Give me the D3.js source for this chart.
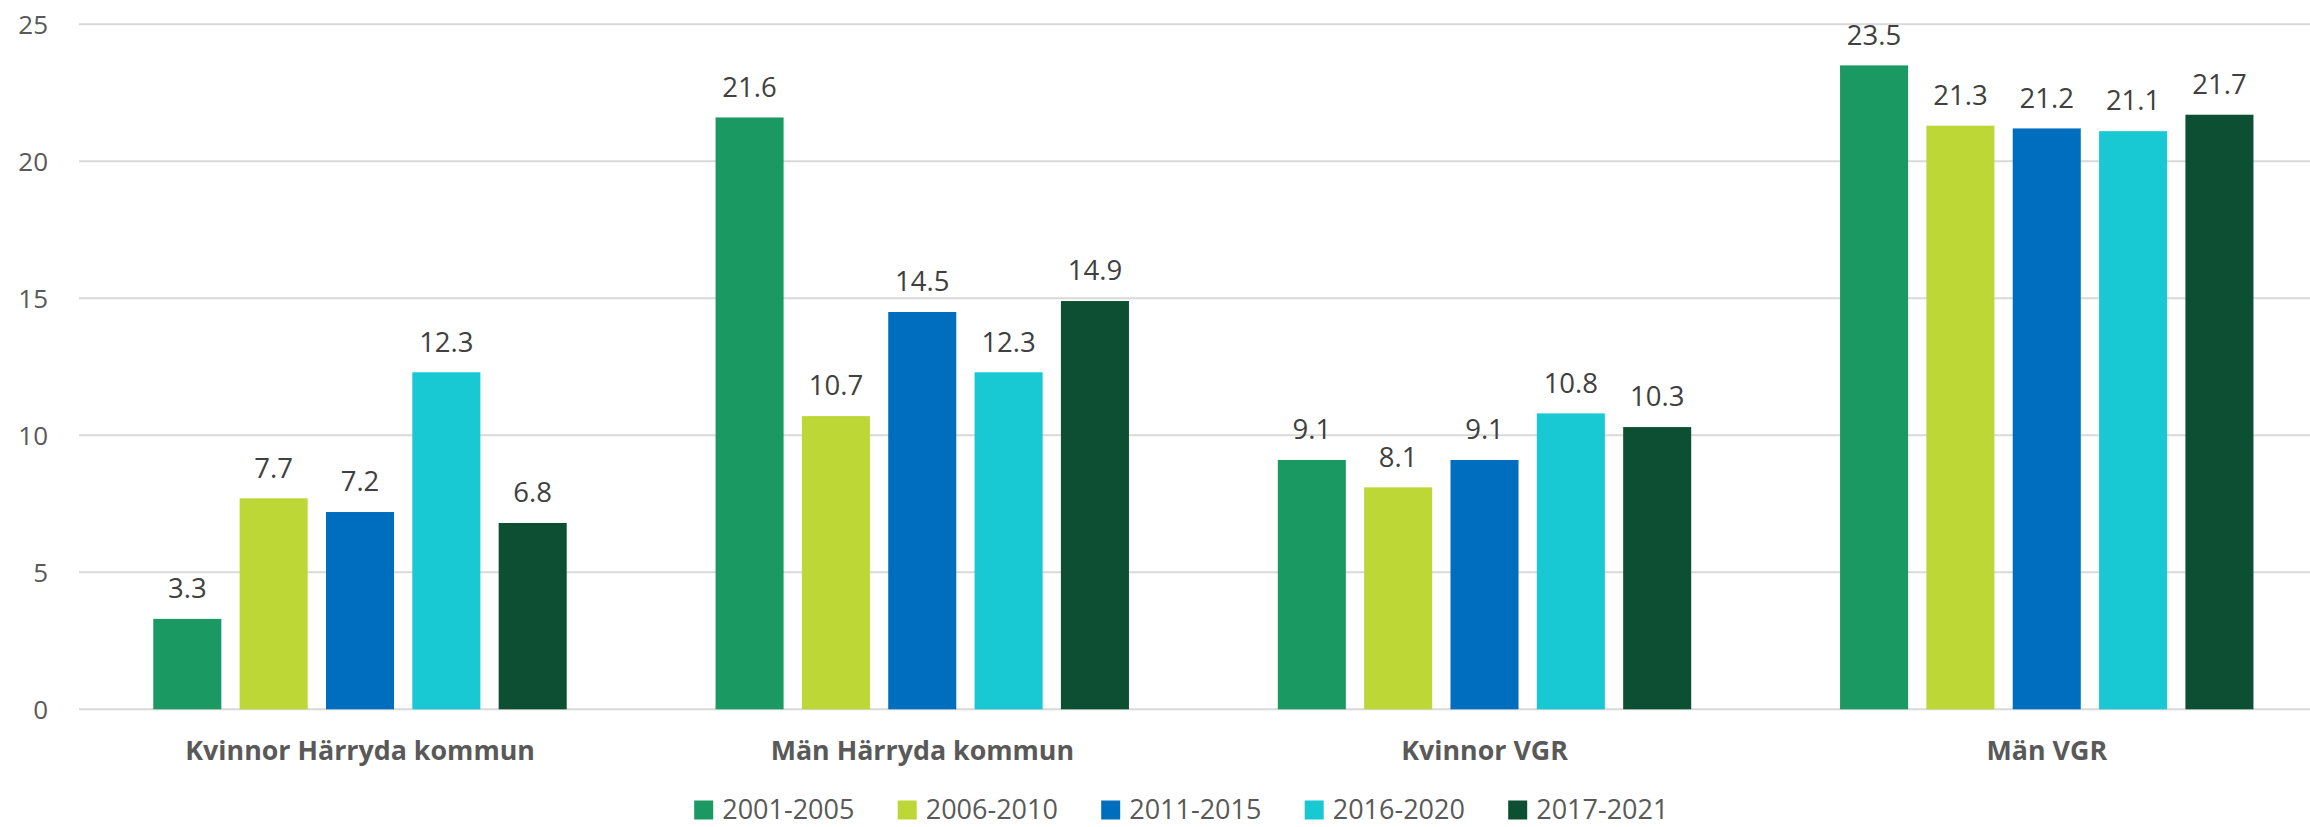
<!DOCTYPE html>
<html>
<head>
<meta charset="utf-8">
<script src="https://cdn.jsdelivr.net/npm/d3@7/dist/d3.min.js"></script>
<style>
  html, body { margin: 0; padding: 0; background: #fff; }
  svg { display: block; }
</style>
</head>
<body>
<svg id="chart" width="2310" height="827"></svg>
<script>
const categories = ["Kvinnor Härryda kommun", "Män Härryda kommun", "Kvinnor VGR", "Män VGR"];
const seriesNames = ["2001-2005", "2006-2010", "2011-2015", "2016-2020", "2017-2021"];
const seriesColors = ["#1a9962", "#bcd736", "#006ebe", "#18c8d2", "#0d4f33"];
const s2001_2005 = [3.3, 21.6, 9.1, 23.5];
const s2006_2010 = [7.7, 10.7, 8.1, 21.3];
const s2011_2015 = [7.2, 14.5, 9.1, 21.2];
const s2016_2020 = [12.3, 12.3, 10.8, 21.1];
const s2017_2021 = [6.8, 14.9, 10.3, 21.7];
const seriesValues = [s2001_2005, s2006_2010, s2011_2015, s2016_2020, s2017_2021];
const yTicks = [0, 5, 10, 15, 20, 25];

const svg = d3.select("#chart");
const plotLeft = 79, plotRight = 2328, gridRight = 2310;
const yTop = 24.3, yBottom = 709.3;

const y = d3.scaleLinear().domain([0, 25]).range([yBottom, yTop]);
const x0 = d3.scaleBand().domain(categories).range([plotLeft, plotRight]).padding(0);
const x1 = d3.scaleBand().domain(seriesNames).range([74.3, 487.7]).paddingInner(0.212).paddingOuter(0);

// gridlines
svg.append("g").selectAll("line").data(yTicks).join("line")
  .attr("x1", plotLeft).attr("x2", gridRight)
  .attr("y1", d => y(d)).attr("y2", d => y(d))
  .attr("stroke", "#d9d9d9").attr("stroke-width", 2);

// y tick labels
svg.append("g").selectAll("text").data(yTicks).join("text")
  .attr("x", 48).attr("y", d => y(d) + 9.5)
  .attr("text-anchor", "end")
  .attr("font-family", "Open Sans").attr("font-size", 26)
  .attr("fill", "#595959")
  .text(d => d);

// bars
const rows = [];
categories.forEach((c, i) => {
  seriesNames.forEach((s, j) => {
    rows.push({cat: c, series: s, value: seriesValues[j][i], color: seriesColors[j]});
  });
});

svg.append("g").selectAll("rect").data(rows).join("rect")
  .attr("x", d => x0(d.cat) + x1(d.series))
  .attr("y", d => y(d.value))
  .attr("width", x1.bandwidth())
  .attr("height", d => y(0) - y(d.value))
  .attr("fill", d => d.color);

// value labels
svg.append("g").selectAll("text").data(rows).join("text")
  .attr("x", d => x0(d.cat) + x1(d.series) + x1.bandwidth() / 2)
  .attr("y", d => y(d.value) - 20.7)
  .attr("text-anchor", "middle")
  .attr("font-family", "Open Sans").attr("font-size", 27.5)
  .attr("fill", "#404040")
  .text(d => d.value.toFixed(1));

// category labels
svg.append("g").selectAll("text").data(categories).join("text")
  .attr("x", d => x0(d) + x0.bandwidth() / 2)
  .attr("y", 760)
  .attr("text-anchor", "middle")
  .attr("font-family", "Open Sans").attr("font-weight", "bold").attr("font-size", 26.8)
  .attr("fill", "#595959")
  .text(d => d);

// legend
const legendStart = 694.2, legendStep = 203.5;
const lg = svg.append("g");
const items = lg.selectAll("g").data(seriesNames).join("g")
  .attr("transform", (d, i) => `translate(${legendStart + i * legendStep},0)`);
items.append("rect")
  .attr("x", 0).attr("y", 800.5).attr("width", 19).attr("height", 19)
  .attr("fill", (d, i) => seriesColors[i]);
items.append("text")
  .attr("x", 28).attr("y", 819.2)
  .attr("font-family", "Open Sans").attr("font-size", 27)
  .attr("fill", "#595959")
  .text(d => d);
</script>
</body>
</html>
